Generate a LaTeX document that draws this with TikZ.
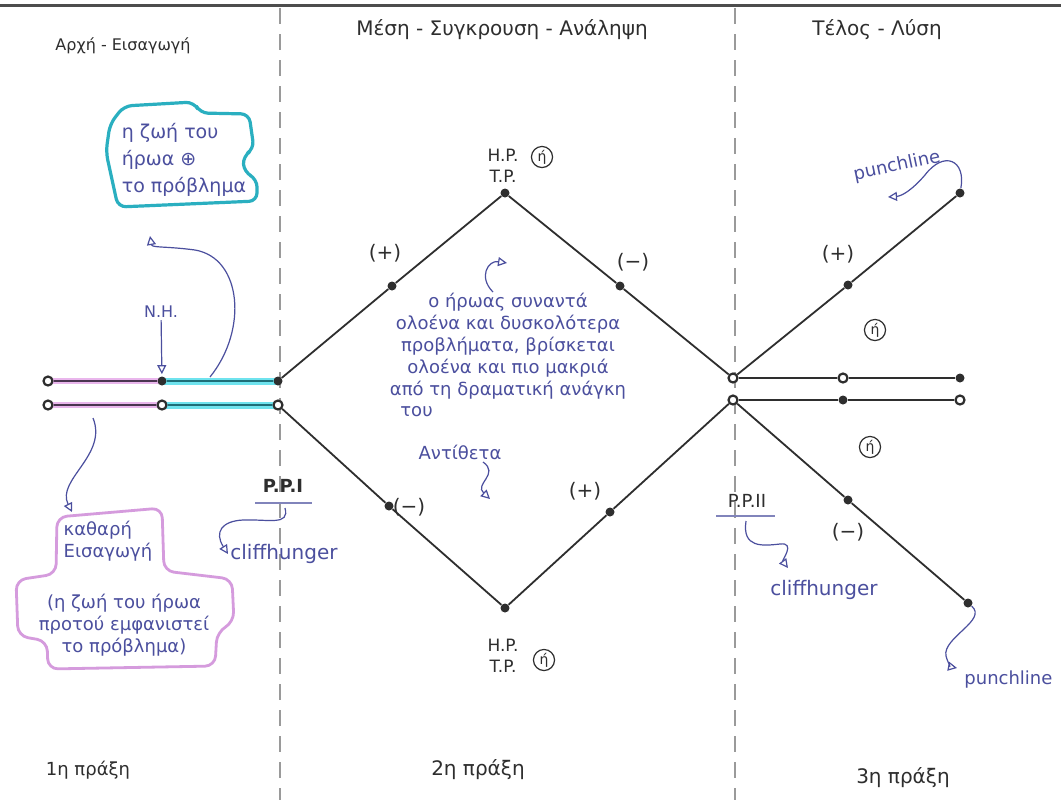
\documentclass[tikz,border=0pt]{standalone}
\usepackage{fontspec}
\setmainfont{DejaVu Sans}
\usetikzlibrary{arrows.meta}
\pgfdeclarelayer{bg}
\pgfsetlayers{bg,main}
\definecolor{ink}{HTML}{2E2E2E}
\definecolor{penblue}{HTML}{4B4F9E}
\definecolor{tealhl}{HTML}{6FE3EE}
\definecolor{tealln}{HTML}{1E6E78}
\definecolor{pinkhl}{HTML}{E9B6EC}
\definecolor{pinkln}{HTML}{4A3550}
\definecolor{boxteal}{HTML}{2AAFC0}
\definecolor{boxpink}{HTML}{D59BDD}
\definecolor{dashgray}{HTML}{9A9A9A}
\begin{document}
\begin{tikzpicture}[x=0.5pt,y=-0.5pt,
  dot/.style={circle,fill=ink,inner sep=0pt,minimum size=4.5pt},
  ring/.style={circle,draw=ink,fill=white,line width=1.1pt,inner sep=0pt,minimum size=4.5pt},
  edgeline/.style={ink,line width=0.9pt},
  heading/.style={text=ink,inner sep=1pt},
  note/.style={text=penblue,inner sep=1pt,font=\fontsize{9}{11}\selectfont},
  sign/.style={text=ink,font=\fontsize{10}{12}\selectfont,inner sep=1pt},
  hp/.style={text=ink,font=\fontsize{8.5}{10.5}\selectfont,align=center,inner sep=1pt},
  hcirc/.style={circle,draw=ink,line width=0.6pt,inner sep=0.8pt,text=ink,font=\fontsize{7}{7}\selectfont},
  pointer/.style={penblue,line width=0.6pt,-{Triangle[open,length=4.5pt,width=4.5pt]}},
  act/.style={text=ink,font=\fontsize{9}{11}\selectfont,inner sep=1pt},
  divider/.style={dashgray,line width=0.6pt,dash pattern=on 8pt off 5pt}
]
\path[use as bounding box] (0,0) rectangle (1061,800);
\begin{pgfonlayer}{bg}
  \fill[white] (0,0) rectangle (1061,800);
\end{pgfonlayer}
% top edge of the paper
\coordinate (edgeL) at (0,5); \coordinate (edgeR) at (1061,5);
\draw[ink!85,line width=1.5pt] (edgeL) -- (edgeR);
% act dividers
\coordinate (d1t) at (280,8); \coordinate (d1b) at (280,800);
\coordinate (d2t) at (735,8); \coordinate (d2b) at (735,800);
\draw[divider] (d1t) -- (d1b);
\draw[divider] (d2t) -- (d2b);

% headings
\node[heading,font=\fontsize{8}{10}\selectfont] (h1) at (123,46) {Αρχή - Εισαγωγή};
\node[heading,font=\fontsize{10}{12}\selectfont] (h2) at (502,30) {Μέση - Συγκρουση - Ανάληψη};
\node[heading,font=\fontsize{10}{12}\selectfont] (h3) at (877,30) {Τέλος - Λύση};

% bottom act labels
\node[act] (a1) at (88,770) {1η πράξη};
\node[act,font=\fontsize{10}{12}\selectfont] (a2) at (478,770) {2η πράξη};
\node[act,font=\fontsize{10}{12}\selectfont] (a3) at (903,778) {3η πράξη};

% ---------- act 1: two lines ----------
\node[ring] (L1a) at (48,381) {};
\node[dot]  (L1b) at (162,381) {};
\node[dot]  (L1c) at (278,381) {};
\node[ring] (L2a) at (48,405) {};
\node[ring] (L2b) at (162,405) {};
\node[ring] (L2c) at (278,405) {};
\begin{pgfonlayer}{bg}
  \draw[pinkhl,line width=3pt] (L1a.center) -- (L1b.center);
  \draw[pinkhl,line width=3pt] (L2a.center) -- (L2b.center);
  \draw[tealhl,line width=3.5pt] (L1b.center) -- (L1c.center);
  \draw[tealhl,line width=3.5pt] (L2b.center) -- (L2c.center);
  \draw[pinkln,line width=0.9pt] (L1a) -- (L1b);
  \draw[pinkln,line width=0.9pt] (L2a) -- (L2b);
  \draw[tealln,line width=1.1pt] (L1b) -- (L1c);
  \draw[tealln,line width=1.1pt] (L2b) -- (L2c);
\end{pgfonlayer}

% ---------- act 2: diamond ----------
\node[dot] (top) at (505,193) {};
\node[dot] (ul)  at (392,286) {};
\node[dot] (ur)  at (620,286) {};
\node[ring] (R1) at (733,378) {};
\node[ring] (R2) at (733,400) {};
\node[dot] (bot) at (505,608) {};
\node[dot] (ll)  at (389,506) {};
\node[dot] (lr)  at (610,512) {};
\begin{pgfonlayer}{bg}
  \draw[edgeline] (L1c) -- (ul) -- (top) -- (ur) -- (R1);
  \draw[edgeline] (L2c) -- (ll) -- (bot) -- (lr) -- (R2);
\end{pgfonlayer}

% ---------- act 3 ----------
\node[dot] (ru)   at (848,285) {};
\node[dot] (rue)  at (960,193) {};
\node[ring] (rm1) at (843,378) {};
\node[dot] (re1)  at (960,378) {};
\node[dot] (rm2)  at (843,400) {};
\node[ring] (re2) at (960,400) {};
\node[dot] (rd)   at (848,500) {};
\node[dot] (rde)  at (968,603) {};
\begin{pgfonlayer}{bg}
  \draw[edgeline] (R1) -- (ru) -- (rue);
  \draw[edgeline] (R1) -- (rm1) -- (re1);
  \draw[edgeline] (R2) -- (rm2) -- (re2);
  \draw[edgeline] (R2) -- (rd) -- (rde);
\end{pgfonlayer}

% signs
\node[sign] (s1) at (385,253) {(+)};
\node[sign] (s2) at (633,262) {(−)};
\node[sign] (s3) at (409,507) {(−)};
\node[sign] (s4) at (585,491) {(+)};
\node[sign] (s5) at (838,254) {(+)};
\node[sign] (s6) at (848,532) {(−)};

% H.P. / T.P. labels
\node[hp] (hpt) at (503,166) {H.P.\\T.P.};
\node[hcirc] (ct) at (542,157) {ή};
\node[hp] (hpb) at (503,656) {H.P.\\T.P.};
\node[hcirc] (cb) at (544,660) {ή};
\node[hcirc] (c3a) at (875,330) {ή};
\node[hcirc] (c3b) at (870,447) {ή};

% centre text
\node[note,align=center] (ctext) at (508,346) {ο ήρωας συναντά\\ολοένα και δυσκολότερα\\προβλήματα, βρίσκεται\\ολοένα και πιο μακριά\\από τη δραματική ανάγκη};
\node[note,anchor=west] (tou) at (398,412) {του};
\node[note] (anti) at (460,452) {Αντίθετα};
\coordinate (cu1) at (493,292); \coordinate (cu2) at (507,263);
\draw[pointer] (cu1) .. controls (478,277) and (488,260) .. (cu2);
\coordinate (sq1) at (483,462); \coordinate (sq2) at (490,499);
\draw[pointer] (sq1) .. controls (500,474) and (474,484) .. (sq2);

% blue box (the hero's life + the problem)
\draw[boxteal,line width=1.6pt,rounded corners=4pt]
  (110,124) -- (124,106) -- (194,102) -- (200,113) -- (249,114) -- (254,149)
  -- (243,156) -- (244,172) -- (257,179) -- (257,201) -- (118,207) -- (106,152) -- cycle;
\node[note,align=left,font=\fontsize{9.5}{13.5}\selectfont] (btext) at (184,160) {η ζωή του\\ήρωα ⊕\\το πρόβλημα};

% pink box
\draw[boxpink,line width=1.4pt,rounded corners=5pt]
  (57,517) -- (162,508) -- (164,571) -- (232,579) -- (234,622) -- (217,632)
  -- (215,666) -- (48,669) -- (47,641) -- (18,636) -- (16,580) -- (56,574) -- cycle;
\node[note,align=left] (pk1) at (108,541) {καθαρή\\Εισαγωγή};
\node[note,align=center] (pk2) at (124,625) {(η ζωή του ήρωα\\προτού εμφανιστεί\\το πρόβλημα)};

% N.H.
\node[note,font=\fontsize{8}{10}\selectfont] (nh) at (161,312) {N.H.};
\draw[pointer,shorten >=1pt] (nh) -- (L1b);

% pointer from the teal line to the blue box
\coordinate (tp1) at (210,377); \coordinate (tp2) at (150,236);
\draw[pointer] (tp1) .. controls (248,330) and (242,258) .. (195,250)
  .. controls (165,246) and (152,248) .. (tp2);
% pointer from the pink line to the pink box
\coordinate (lp1) at (93,418); \coordinate (lp2) at (72,512);
\draw[pointer] (lp1) .. controls (108,455) and (56,480) .. (lp2);

% P.P.I and cliffhunger
\node[text=ink,font=\fontsize{9}{11}\selectfont\bfseries,inner sep=1pt] (ppi) at (283,486) {P.P.I};
\coordinate (ppiu1) at (255,503); \coordinate (ppiu2) at (312,503);
\draw[penblue!70,line width=1.2pt] (ppiu1) -- (ppiu2);
\node[note,anchor=west,font=\fontsize{10}{12}\selectfont] (cl1) at (228,554) {cliffhunger};
\coordinate (pa1) at (285,508);
\draw[pointer] (pa1) .. controls (290,526) and (268,519) .. (243,520)
  .. controls (222,521) and (214,532) .. (cl1.west);

% P.P.II and cliffhunger
\node[text=ink,font=\fontsize{9}{11}\selectfont,inner sep=1pt] (ppii) at (747,501) {P.P.II};
\coordinate (ppiiu1) at (716,516); \coordinate (ppiiu2) at (775,516);
\draw[penblue!70,line width=1.2pt] (ppiiu1) -- (ppiiu2);
\node[note,anchor=west,font=\fontsize{10}{12}\selectfont] (cl2) at (768,590) {cliffhunger};
\coordinate (pb1) at (746,521); \coordinate (pb2) at (788,568);
\draw[pointer] (pb1) .. controls (742,548) and (762,546) .. (780,544)
  .. controls (796,542) and (782,560) .. (pb2);

% punchlines
\node[note,rotate=12,font=\fontsize{9}{11}\selectfont] (pl1) at (897,166) {punchline};
\coordinate (pt1) at (888,197);
\draw[pointer] (rue) .. controls (966,160) and (944,150) .. (925,175)
  .. controls (912,190) and (902,196) .. (pt1);
\node[note,anchor=west,font=\fontsize{9}{11}\selectfont] (pl2) at (962,680) {punchline};
\coordinate (pt2) at (957,668);
\draw[pointer] (rde) .. controls (988,620) and (942,638) .. (946,656)
  .. controls (948,664) and (952,667) .. (pt2);
\end{tikzpicture}
\end{document}
